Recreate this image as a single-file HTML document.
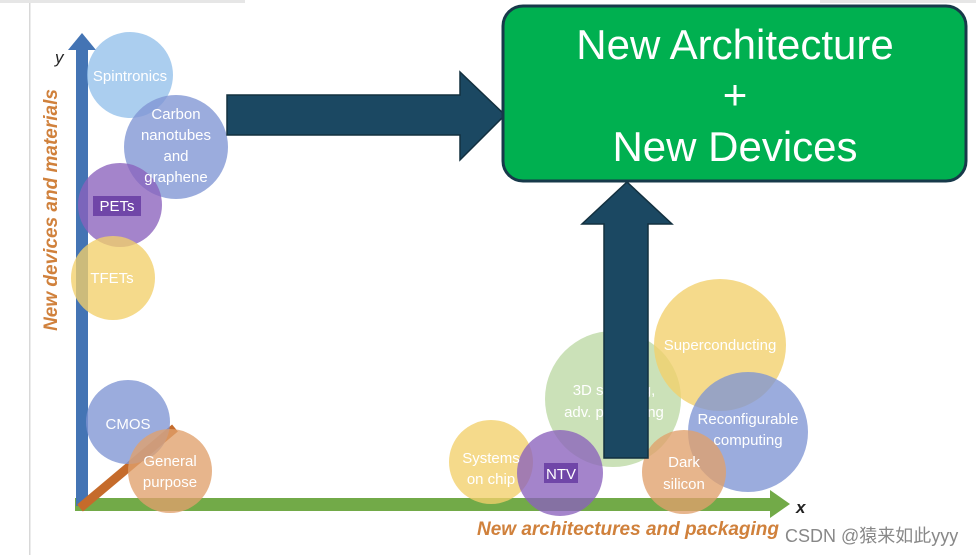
<!DOCTYPE html>
<html><head><meta charset="utf-8"><style>
html,body{margin:0;padding:0;background:#fff;}
svg{display:block;}
text{font-family:"Liberation Sans","Noto Sans CJK SC",sans-serif;}
</style></head><body>
<svg width="976" height="555" viewBox="0 0 976 555" xmlns="http://www.w3.org/2000/svg">
<rect x="0" y="0" width="245" height="3" fill="#e6e6e6"/>
<rect x="820" y="0" width="156" height="3" fill="#e6e6e6"/>
<rect x="29" y="3" width="1.5" height="552" fill="#d8d8d8"/>

<!-- axes -->
<rect x="75" y="498" width="700" height="13" fill="#72aa48"/>
<polygon points="770,490 790,504 770,518" fill="#72aa48"/>
<rect x="76" y="48" width="12" height="458" fill="#4474b4"/>
<polygon points="68,50 82,33 96,50" fill="#4474b4"/>
<line x1="80" y1="508" x2="175" y2="428" stroke="#c56b2b" stroke-width="9"/>
<text x="55" y="63" font-size="17" font-style="italic" fill="#222">y</text>
<text x="796" y="513" font-size="17" font-style="italic" font-weight="bold" fill="#222">x</text>
<text transform="translate(57,210) rotate(-90)" text-anchor="middle" font-size="19" font-style="italic" font-weight="bold" fill="#d0813c">New devices and materials</text>
<text x="628" y="535" text-anchor="middle" font-size="19" font-style="italic" font-weight="bold" fill="#d0813c">New architectures and packaging</text>

<g fill-opacity="0.78">
<circle cx="130" cy="75" r="43" fill="#93c0ea"/>
<circle cx="176" cy="147" r="52" fill="#7f95d4"/>
<circle cx="120" cy="205" r="42" fill="#8a62bc"/>
<circle cx="113" cy="278" r="42" fill="#f2cf6a"/>
<circle cx="128" cy="422" r="42" fill="#7f95d4"/>
<circle cx="170" cy="471" r="42" fill="#e0a06c"/>
<circle cx="613" cy="399" r="68" fill="#bcd8a4"/>
<circle cx="720" cy="345" r="66" fill="#f2cf6a"/>
<circle cx="748" cy="432" r="60" fill="#7f95d4"/>
<circle cx="491" cy="462" r="42" fill="#f2cf6a"/>
<circle cx="560" cy="473" r="43" fill="#8a62bc"/>
<circle cx="684" cy="472" r="42" fill="#e0a06c"/>
</g>
<rect x="93" y="196" width="48" height="20" fill="#7046a8"/>
<rect x="544" y="463" width="34" height="20" fill="#7046a8"/>
<g fill="#fff" font-size="15" text-anchor="middle">
<text x="130" y="81">Spintronics</text>
<text x="176" y="119">Carbon</text>
<text x="176" y="140">nanotubes</text>
<text x="176" y="161">and</text>
<text x="176" y="182">graphene</text>
<text x="117" y="211">PETs</text>
<text x="112" y="283">TFETs</text>
<text x="128" y="429">CMOS</text>
<text x="170" y="466">General</text>
<text x="170" y="487">purpose</text>
<text x="614" y="395">3D stacking,</text>
<text x="614" y="417">adv. packaging</text>
<text x="720" y="350">Superconducting</text>
<text x="748" y="424">Reconfigurable</text>
<text x="748" y="445">computing</text>
<text x="491" y="463">Systems</text>
<text x="491" y="484">on chip</text>
<text x="561" y="479">NTV</text>
<text x="684" y="467">Dark</text>
<text x="684" y="489">silicon</text>
</g>

<polygon points="227,95 460,95 460,72 505,115 460,160 460,135 227,135" fill="#1b4862" stroke="#13303f" stroke-width="1.5"/>
<polygon points="604,458 604,224 582,224 627,182 672,224 648,224 648,458" fill="#1b4862" stroke="#13303f" stroke-width="1.5"/>

<rect x="503" y="6" width="463" height="175" rx="20" fill="#00b050" stroke="#17394a" stroke-width="3"/>
<g fill="#fff" font-size="42" text-anchor="middle">
<text x="735" y="59">New Architecture</text>
<text x="735" y="109">+</text>
<text x="735" y="161">New Devices</text>
</g>

<text x="785" y="542" font-size="18" fill="#888">CSDN @猿来如此yyy</text>
</svg>
</body></html>
